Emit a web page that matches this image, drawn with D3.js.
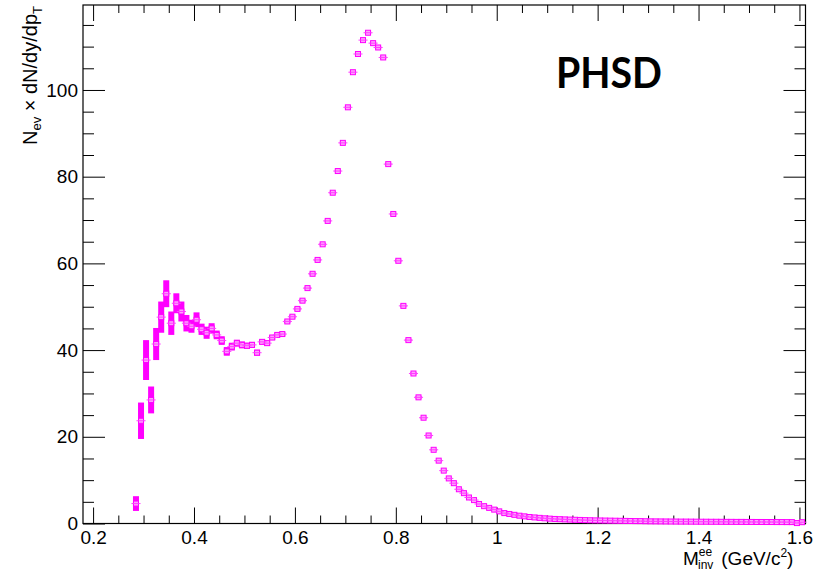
<!DOCTYPE html>
<html>
<head>
<meta charset="utf-8">
<script src="https://cdn.jsdelivr.net/npm/d3@7"></script>
<style>
  body { margin: 0; background: #fff; }
  svg { display: block; }
</style>
</head>
<body>
<svg id="chart" width="825" height="575"></svg>
<script>
// bin centres (GeV/c^2), 10 MeV bins
var massBins = [
  0.285, 0.295, 0.305, 0.315, 0.325, 0.335, 0.345, 0.355, 0.365, 0.375,
  0.385, 0.395, 0.405, 0.415, 0.425, 0.435, 0.445, 0.455, 0.465, 0.475,
  0.485, 0.495, 0.505, 0.515, 0.525, 0.535, 0.545, 0.555, 0.565, 0.575,
  0.585, 0.595, 0.605, 0.615, 0.625, 0.635, 0.645, 0.655, 0.665, 0.675,
  0.685, 0.695, 0.705, 0.715, 0.725, 0.735, 0.745, 0.755, 0.765, 0.775,
  0.785, 0.795, 0.805, 0.815, 0.825, 0.835, 0.845, 0.855, 0.865, 0.875,
  0.885, 0.895, 0.905, 0.915, 0.925, 0.935, 0.945, 0.955, 0.965, 0.975,
  0.985, 0.995, 1.005, 1.015, 1.025, 1.035, 1.045, 1.055, 1.065, 1.075,
  1.085, 1.095, 1.105, 1.115, 1.125, 1.135, 1.145, 1.155, 1.165, 1.175,
  1.185, 1.195, 1.205, 1.215, 1.225, 1.235, 1.245, 1.255, 1.265, 1.275,
  1.285, 1.295, 1.305, 1.315, 1.325, 1.335, 1.345, 1.355, 1.365, 1.375,
  1.385, 1.395, 1.405, 1.415, 1.425, 1.435, 1.445, 1.455, 1.465, 1.475,
  1.485, 1.495, 1.505, 1.515, 1.525, 1.535, 1.545, 1.555, 1.565, 1.575,
  1.585, 1.595, 1.605
]

var counts = [
  4.6, 23.7, 37.7, 28.5, 41.4, 47.6, 53.0, 46.2, 50.8, 48.9,
  46.2, 45.5, 47.0, 44.8, 44.0, 45.0, 43.5, 42.2, 39.7, 40.8,
  41.6, 41.2, 41.0, 41.2, 39.4, 41.9, 41.6, 42.9, 43.5, 43.7,
  46.6, 47.7, 49.5, 51.4, 54.3, 57.6, 60.8, 64.4, 69.8, 76.3,
  81.3, 87.8, 96.0, 104.1, 108.3, 111.5, 113.2, 110.8, 109.8, 107.5,
  82.9, 71.4, 60.6, 50.2, 42.3, 34.6, 29.1, 24.4, 20.3, 17.0,
  14.5, 12.2, 10.4, 9.3, 7.9, 7.0, 6.0, 5.4, 4.5, 4.0,
  3.6, 3.2, 2.8, 2.4, 2.2, 2.0, 1.8, 1.65, 1.5, 1.4,
  1.3, 1.2, 1.12, 1.05, 1.0, 0.95, 0.9, 0.86, 0.82, 0.78,
  0.75, 0.72, 0.7, 0.68, 0.66, 0.64, 0.62, 0.6, 0.58, 0.56,
  0.55, 0.52, 0.5, 0.49, 0.48, 0.47, 0.46, 0.45, 0.44, 0.44,
  0.43, 0.42, 0.41, 0.41, 0.4, 0.4, 0.39, 0.38, 0.38, 0.37,
  0.37, 0.36, 0.36, 0.35, 0.35, 0.34, 0.34, 0.33, 0.33, 0.32,
  0.32, 0.1, 0.3
]

var errors = [
  1.7, 4.2, 4.6, 3.1, 3.7, 3.6, 3.1, 2.7, 2.3, 2.3,
  1.9, 1.5, 1.7, 1.3, 1.4, 1.2, 1.0, 1.0, 1.0, 0.9,
  0.8, 0.8, 0.7, 0.7, 0.7, 0.6, 0.6, 0.6, 0.5, 0.5,
  0.4, 0.4, 0.4, 0.4, 0.3, 0.3, 0.3, 0.3, 0.3, 0.3,
  0.3, 0.3, 0.3, 0.3, 0.3, 0.3, 0.3, 0.3, 0.3, 0.3,
  0.3, 0.3, 0.3, 0.3, 0.3, 0.3, 0.3, 0.2, 0.2, 0.2,
  0.2, 0.2, 0.2, 0.2, 0.2, 0.2, 0.2, 0.2, 0.2, 0.2,
  0.2, 0.2, 0.2, 0.2, 0.2, 0.2, 0.2, 0.2, 0.2, 0.2,
  0.2, 0.2, 0.2, 0.2, 0.2, 0.2, 0.2, 0.2, 0.2, 0.2,
  0.2, 0.2, 0.2, 0.2, 0.2, 0.2, 0.2, 0.2, 0.2, 0.2,
  0.2, 0.2, 0.2, 0.2, 0.2, 0.2, 0.2, 0.2, 0.2, 0.2,
  0.2, 0.2, 0.2, 0.2, 0.2, 0.2, 0.2, 0.2, 0.2, 0.2,
  0.2, 0.2, 0.2, 0.2, 0.2, 0.2, 0.2, 0.2, 0.2, 0.2,
  0.2, 0.4, 0.2
]

var xTicks = [0.2, 0.4, 0.6, 0.8, 1.0, 1.2, 1.4, 1.6]
var yTicks = [0, 20, 40, 60, 80, 100]

var svg = d3.select('#chart')

var frameLeft = 83, frameRight = 805.5, frameTop = 5, frameBottom = 523.5
var font = '"Liberation Sans", Arial, sans-serif'

var x = d3.scaleLinear().domain([0.18, 1.612]).range([frameLeft, frameRight])
var y = d3.scaleLinear().domain([0, 119.6]).range([frameBottom, frameTop])

var xMinor = d3.range(0.2, 1.6001, 0.05).filter(function(v) {
  return Math.abs(v * 5 - Math.round(v * 5)) > 1e-6
})
var yMinor = d3.range(5, 119, 5).filter(function(v) { return v % 20 !== 0 })

function noText(g) { g.selectAll('text').remove() }
function styleAxis(g) {
  g.select('.domain').remove()
  g.selectAll('line').attr('stroke', '#000').attr('stroke-width', 1)
  g.selectAll('text').attr('font-size', 19).attr('font-family', font).attr('fill', '#000')
}

// bottom axis
svg.append('g').attr('transform', 'translate(0,' + frameBottom + ')')
  .call(d3.axisBottom(x).tickValues(xTicks).tickSizeInner(-16).tickSizeOuter(0).tickPadding(7)
    .tickFormat(function(d) { return String(+d.toFixed(1)) }))
  .call(styleAxis)
svg.append('g').attr('transform', 'translate(0,' + frameBottom + ')')
  .call(d3.axisBottom(x).tickValues(xMinor).tickSizeInner(-8).tickSizeOuter(0))
  .call(noText).call(styleAxis)

// top axis
svg.append('g').attr('transform', 'translate(0,' + frameTop + ')')
  .call(d3.axisTop(x).tickValues(xTicks).tickSizeInner(-16).tickSizeOuter(0))
  .call(noText).call(styleAxis)
svg.append('g').attr('transform', 'translate(0,' + frameTop + ')')
  .call(d3.axisTop(x).tickValues(xMinor).tickSizeInner(-8).tickSizeOuter(0))
  .call(noText).call(styleAxis)

// left axis
svg.append('g').attr('transform', 'translate(' + frameLeft + ',0)')
  .call(d3.axisLeft(y).tickValues(yTicks).tickSizeInner(-22).tickSizeOuter(0).tickPadding(5))
  .call(styleAxis)
svg.append('g').attr('transform', 'translate(' + frameLeft + ',0)')
  .call(d3.axisLeft(y).tickValues(yMinor).tickSizeInner(-11).tickSizeOuter(0))
  .call(noText).call(styleAxis)

// right axis
svg.append('g').attr('transform', 'translate(' + frameRight + ',0)')
  .call(d3.axisRight(y).tickValues(yTicks).tickSizeInner(-22).tickSizeOuter(0))
  .call(noText).call(styleAxis)
svg.append('g').attr('transform', 'translate(' + frameRight + ',0)')
  .call(d3.axisRight(y).tickValues(yMinor).tickSizeInner(-11).tickSizeOuter(0))
  .call(noText).call(styleAxis)

// frame
svg.append('rect')
  .attr('x', frameLeft).attr('y', frameTop)
  .attr('width', frameRight - frameLeft).attr('height', frameBottom - frameTop)
  .attr('fill', 'none').attr('stroke', '#000').attr('stroke-width', 1.2)

// data points
var points = massBins.map(function(m, i) {
  return { m: m, v: counts[i], e: errors[i] }
})

var plot = svg.append('g')

plot.selectAll('rect.err')
  .data(points)
  .enter()
  .append('rect')
  .attr('class', 'err')
  .attr('x', function(d) { return x(d.m) - 3 })
  .attr('width', 6)
  .attr('y', function(d) { return y(d.v + d.e) })
  .attr('height', function(d) { return Math.max(1, y(d.v - d.e) - y(d.v + d.e)) })
  .attr('fill', '#ff00ff')

plot.selectAll('rect.mark')
  .data(points)
  .enter()
  .append('rect')
  .attr('class', 'mark')
  .attr('x', function(d) { return x(d.m) - 2.5 })
  .attr('y', function(d) { return y(d.v) - 2.5 })
  .attr('width', 5)
  .attr('height', 5)
  .attr('fill', '#ffa0ff')
  .attr('stroke', '#ff00ff')
  .attr('stroke-width', 1)

plot.selectAll('line.xerr')
  .data(points)
  .enter()
  .append('line')
  .attr('class', 'xerr')
  .attr('x1', function(d) { return x(d.m - 0.009) })
  .attr('x2', function(d) { return x(d.m + 0.009) })
  .attr('y1', function(d) { return y(d.v) })
  .attr('y2', function(d) { return y(d.v) })
  .attr('stroke', '#ff40ff')
  .attr('stroke-width', 1)

// axis titles
var ytitle = svg.append('text')
  .attr('transform', 'translate(37,6) rotate(-90)')
  .attr('text-anchor', 'end')
  .attr('font-family', font)
  .attr('font-size', 20)
ytitle.append('tspan').text('N')
ytitle.append('tspan').attr('font-size', 13).attr('dy', 4).text('ev')
ytitle.append('tspan').attr('dy', -4).text(' \u00d7 dN/dy/dp')
ytitle.append('tspan').attr('font-size', 13).attr('dy', 5).text('T')

var xtitle = svg.append('text')
  .attr('x', 683).attr('y', 565)
  .attr('font-family', font)
  .attr('font-size', 19)
xtitle.append('tspan').text('M')
xtitle.append('tspan').attr('font-size', 12).attr('dy', -9).text('ee')
xtitle.append('tspan').attr('font-size', 12).attr('x', 698).attr('dy', 13).text('inv')
xtitle.append('tspan').attr('x', 716).attr('dy', -4).text(' (GeV/c')
xtitle.append('tspan').attr('font-size', 12).attr('dy', -8).text('2')
xtitle.append('tspan').attr('dy', 8).text(')')

svg.append('text')
  .attr('x', 556).attr('y', 88)
  .attr('font-family', 'Lato, "Open Sans", sans-serif')
  .attr('font-weight', 700)
  .attr('font-size', 42)
  .attr('textLength', 106)
  .attr('lengthAdjust', 'spacingAndGlyphs')
  .text('PHSD')
</script>
</body>
</html>
